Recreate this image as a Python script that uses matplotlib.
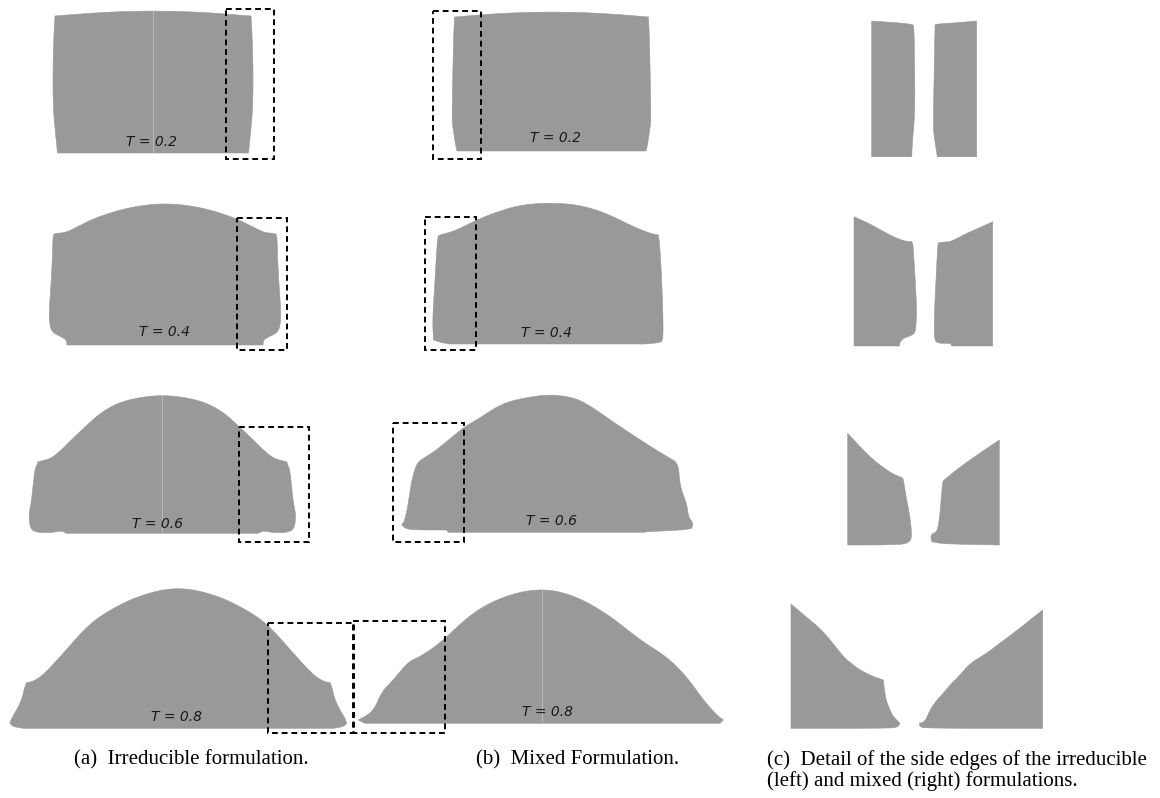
import numpy as np
import matplotlib
matplotlib.use("Agg")
import matplotlib.pyplot as plt
from matplotlib.patches import Polygon, Rectangle

GREY = "#999999"

# free-surface outlines, (dx, height) in px relative to centre of the base
# (a) irreducible: right half only, mirrored
irr_t02 = [(0, 142), (30, 141.5), (60, 140), (85, 138), (98, 137), (99, 120), (100, 90),
           (100, 55), (99, 35), (97, 15), (95.5, 0)]
irr_t04 = [(0, 142), (35, 138), (68, 128), (88, 118), (98, 113), (104, 112), (110, 111.5),
           (112, 110), (112.5, 90), (114, 60), (116, 32), (115, 18), (111.7, 12),
           (104, 8.3), (98.5, 5), (98, 0)]
irr_t06 = [(0, 139), (37.7, 133.3), (60, 122), (77, 106.7), (91, 93.3), (101, 83.3),
           (111, 75), (120, 72.5), (124.4, 71.6), (125.5, 68), (127.7, 63.3), (131, 30),
           (133.4, 20), (132.7, 6.7), (127.7, 1), (111, 0.5), (101, 2.7), (96, 0)]
irr_t08 = [(0, 141.6), (38.4, 133.3), (71.7, 116.6), (91.7, 101.6), (115, 75), (135, 53.3),
           (145, 47), (151.7, 45.6), (153.4, 41.6), (156.7, 28.3), (161.7, 18.3),
           (166.7, 10), (168.4, 5), (165, 1.6), (155, 0)]

# (b) mixed: full outlines
mix_t02 = [(0, 139), (30, 138.5), (60, 137), (85, 135), (97, 134), (98, 110), (99, 60),
           (99.5, 30), (98, 20), (96, 6), (94.5, 0)]
mix_t04 = [(-97.5, 0), (-106, 1.3), (-114, 4), (-115, 24), (-112.5, 64), (-110, 107.3),
           (-108, 109), (-100, 111), (-90.8, 114), (-70.8, 124), (-50.8, 132), (-27.5, 139),
           (2.5, 141.3), (32.5, 139), (59, 130.7), (85.8, 117.3), (102.5, 110.7),
           (110.8, 109), (112.5, 97.3), (115, 47), (115.8, 7.3), (114, 2.3), (109, 1),
           (97.5, 0)]
mix_t06 = [(-99.2, 0), (-100.8, 2.3), (-127.5, 2.3), (-140.8, 3), (-145.8, 7.3),
           (-142.5, 12.3), (-139.2, 29), (-135.8, 52.3), (-130.8, 69), (-124.2, 74),
           (-110.8, 82.3), (-83.2, 105.6), (-70.8, 112.3), (-50.8, 125.6), (-34.2, 132.3),
           (-0.8, 138), (22.5, 135.6), (39.2, 129), (72.5, 105.6), (105.8, 84), (122.5, 74),
           (130.8, 69), (132.5, 45.6), (139.2, 29), (140.8, 15.6), (145.8, 9), (144.2, 4),
           (135.8, 2.3), (99.2, 0.6), (97.5, 0)]
mix_t08 = [(-175.8, 0), (-182.5, 3.3), (-167.5, 11.6), (-159.1, 31.6), (-147.5, 43.3),
           (-132.5, 61.6), (-120.8, 66.6), (-100.8, 80), (-67.5, 111.6), (-34.1, 128.3),
           (0.9, 135), (32.5, 128.3), (65.9, 110), (99.2, 83.3), (125.9, 66.6),
           (145.9, 46.6), (162.5, 23.3), (175.9, 8.3), (182.5, 3.3), (179.2, 0)]

# (c) details, relative to lower-left corner of each detail pair
det_t02_irr = [(0, 135.7), (28.3, 133.7), (40.3, 132.4), (42.3, 130.7), (42.8, 96.7),
               (43.3, 56.7), (42.3, 31.7), (40.8, 16.7), (40, 0), (0, 0)]
det_t02_mix = [(63.3, 131.7), (65.3, 132.7), (88.3, 134.2), (105, 135.7), (105, 0),
               (65.6, 0), (62.3, 21.7), (61.6, 30), (62.3, 76.7), (63.3, 126.7)]
det_t04_irr = [(0, 129.3), (16, 122), (32.7, 112.7), (41, 108.5), (47.7, 106), (52, 104.7),
               (57.7, 104.3), (59, 102), (60, 86), (61.5, 61), (62.7, 36), (62, 21),
               (61, 12.7), (56, 10), (49.3, 7.7), (46, 4), (45.3, 0), (0, 0)]
det_t04_mix = [(84.3, 103.3), (91, 104), (96, 104.3), (104, 108), (112.7, 112.7),
               (126, 118.5), (138.7, 124.3), (138.7, 0), (97.7, 0), (96.7, 2.5), (94.3, 2.7),
               (84.3, 2.7), (80.3, 6), (80.3, 26), (81, 46), (82.5, 76), (83.5, 96)]
det_t06_irr = [(0, 111.7), (12.3, 98.3), (25.6, 85), (39, 75), (47.3, 70), (54, 67.7),
               (55.6, 66), (57.3, 55), (59, 45), (61.3, 33), (63, 21.7), (64, 10),
               (62.8, 4), (57.3, 1), (47.3, 0.5), (32.3, 0), (0, 0)]
det_t06_mix = [(151.6, 105), (132.3, 92), (112.3, 78), (97.3, 65.7), (95, 64), (93.8, 50),
               (92.3, 31.7), (90.8, 20), (89, 13.3), (84.3, 11), (83, 8.3), (84, 3.3),
               (92.3, 1.7), (102.3, 1), (151.6, 0)]
det_t08_irr = [(0, 124.3), (14, 112.3), (29, 100), (41, 86.3), (52.3, 71.6), (61, 64.3),
               (69, 58.3), (81, 52.3), (92.3, 48.3), (93.5, 38.3), (95, 28.3), (99, 18.3),
               (102.3, 11.6), (109, 5), (107, 1.3), (99, 0), (0, 0)]
det_t08_mix = [(251.7, 118.3), (239, 108.3), (222.3, 95), (209, 85.3), (195.7, 75),
               (179, 65), (169, 53.3), (159, 43.3), (152.3, 35), (145, 27.3), (139, 18.3),
               (134, 6.6), (128.3, 5), (129, 1.8), (134, 0), (251.7, 0)]

times = ["0.2", "0.4", "0.6", "0.8"]
captions = ["(a)  Irreducible formulation.", "(b)  Mixed Formulation.",
            "(c)  Detail of the side edges of the irreducible",
            "(left) and mixed (right) formulations."]


def mirror(half):
    left = [(-x, h) for x, h in reversed(half)]
    return left + half[1:]


def chaikin(seg, n=3):
    p = np.asarray(seg, float)
    for _ in range(n):
        if len(p) < 3:
            break
        q = [p[0]]
        for a, b in zip(p[:-1], p[1:]):
            q += [0.75 * a + 0.25 * b, 0.25 * a + 0.75 * b]
        q.append(p[-1])
        p = np.array(q)
    return p


def smooth(pts, sharp_deg=55):
    # round the outline, but keep real corners (big turning angle) sharp
    p = np.asarray(pts, float)
    cut = [0]
    for i in range(1, len(p) - 1):
        u, v = p[i] - p[i - 1], p[i + 1] - p[i]
        ang = np.degrees(abs(np.arctan2(u[0] * v[1] - u[1] * v[0], u @ v)))
        if ang > sharp_deg:
            cut.append(i)
    cut.append(len(p) - 1)
    out = []
    for a, b in zip(cut[:-1], cut[1:]):
        s = chaikin(p[a:b + 1])
        out.extend(s if not out else s[1:])
    return np.array(out)


def place(ax, pts, x0, y0):
    p = smooth(pts)
    xy = np.column_stack([x0 + p[:, 0], y0 - p[:, 1]])
    ax.add_patch(Polygon(xy, closed=True, facecolor=GREY, edgecolor=GREY, lw=0.4))


fig = plt.figure(figsize=(11.6, 7.98), dpi=100)
ax = fig.add_axes([0, 0, 1, 1])
ax.set_xlim(0, 1160)
ax.set_ylim(798, 0)
ax.axis("off")

# layout: (centre x, base y) per row
irr_pos = [(153, 153), (165, 345), (162.3, 533.3), (178.3, 728.3)]
mix_pos = [(551.5, 151), (547.5, 344), (547.5, 532.3), (540.8, 723.3)]
det_pos = [(871.7, 156.7), (854, 346), (847.7, 545), (791, 728.3)]
irr_shapes = [irr_t02, irr_t04, irr_t06, irr_t08]
mix_shapes = [mirror(mix_t02), mix_t04, mix_t06, mix_t08]
det_shapes = [(det_t02_irr, det_t02_mix), (det_t04_irr, det_t04_mix),
              (det_t06_irr, det_t06_mix), (det_t08_irr, det_t08_mix)]

for i in range(4):
    place(ax, mirror(irr_shapes[i]), *irr_pos[i])
    place(ax, mix_shapes[i], *mix_pos[i])
    for piece in det_shapes[i]:
        place(ax, piece, *det_pos[i])

# faint mesh seam along the symmetry axis
for (x, yb), top in [((153, 153), 11), ((162.3, 533.3), 395), ((541.7, 723.3), 589)]:
    ax.plot([x, x], [top, yb], color="#c8c8c8", lw=0.5)

# time labels
irr_lbl = [(152, 142), (164.3, 331.7), (158, 524), (176.7, 716.7)]
mix_lbl = [(555, 138), (546.7, 333.3), (551, 520.7), (548, 711.7)]
for t, (xa, ya), (xb, yb) in zip(times, irr_lbl, mix_lbl):
    for x, y in [(xa, ya), (xb, yb)]:
        ax.text(x, y, f"T = {t}", fontsize=10, style="italic", color="#1a1a1a",
                ha="center", va="center", family="DejaVu Sans")

# dashed boxes marking the detail regions
boxes = [(225.7, 9.3, 274.3, 158.7), (432.7, 11.3, 481.3, 158.7),
         (236.7, 217.7, 287.3, 350), (424.7, 217.3, 475.7, 350),
         (239.3, 426.7, 309.3, 541.7), (392.7, 423.3, 464.3, 541.7),
         (268.3, 623.3, 354, 733.3), (353.3, 620.7, 445, 732.7)]
for x0, y0, x1, y1 in boxes:
    ax.add_patch(Rectangle((x0, y0), x1 - x0, y1 - y0, fill=False, edgecolor="black",
                           lw=1.4, linestyle=(0, (3, 2))))

serif = ["Liberation Serif", "DejaVu Serif"]
ax.text(191.7, 760, captions[0], fontsize=15, family=serif, ha="center", va="center")
ax.text(578, 760, captions[1], fontsize=15, family=serif, ha="center", va="center")
ax.text(766.7, 760, captions[2], fontsize=15, family=serif, ha="left", va="center")
ax.text(766.7, 781, captions[3], fontsize=15, family=serif, ha="left", va="center")

fig.savefig("out.png", dpi=100)
